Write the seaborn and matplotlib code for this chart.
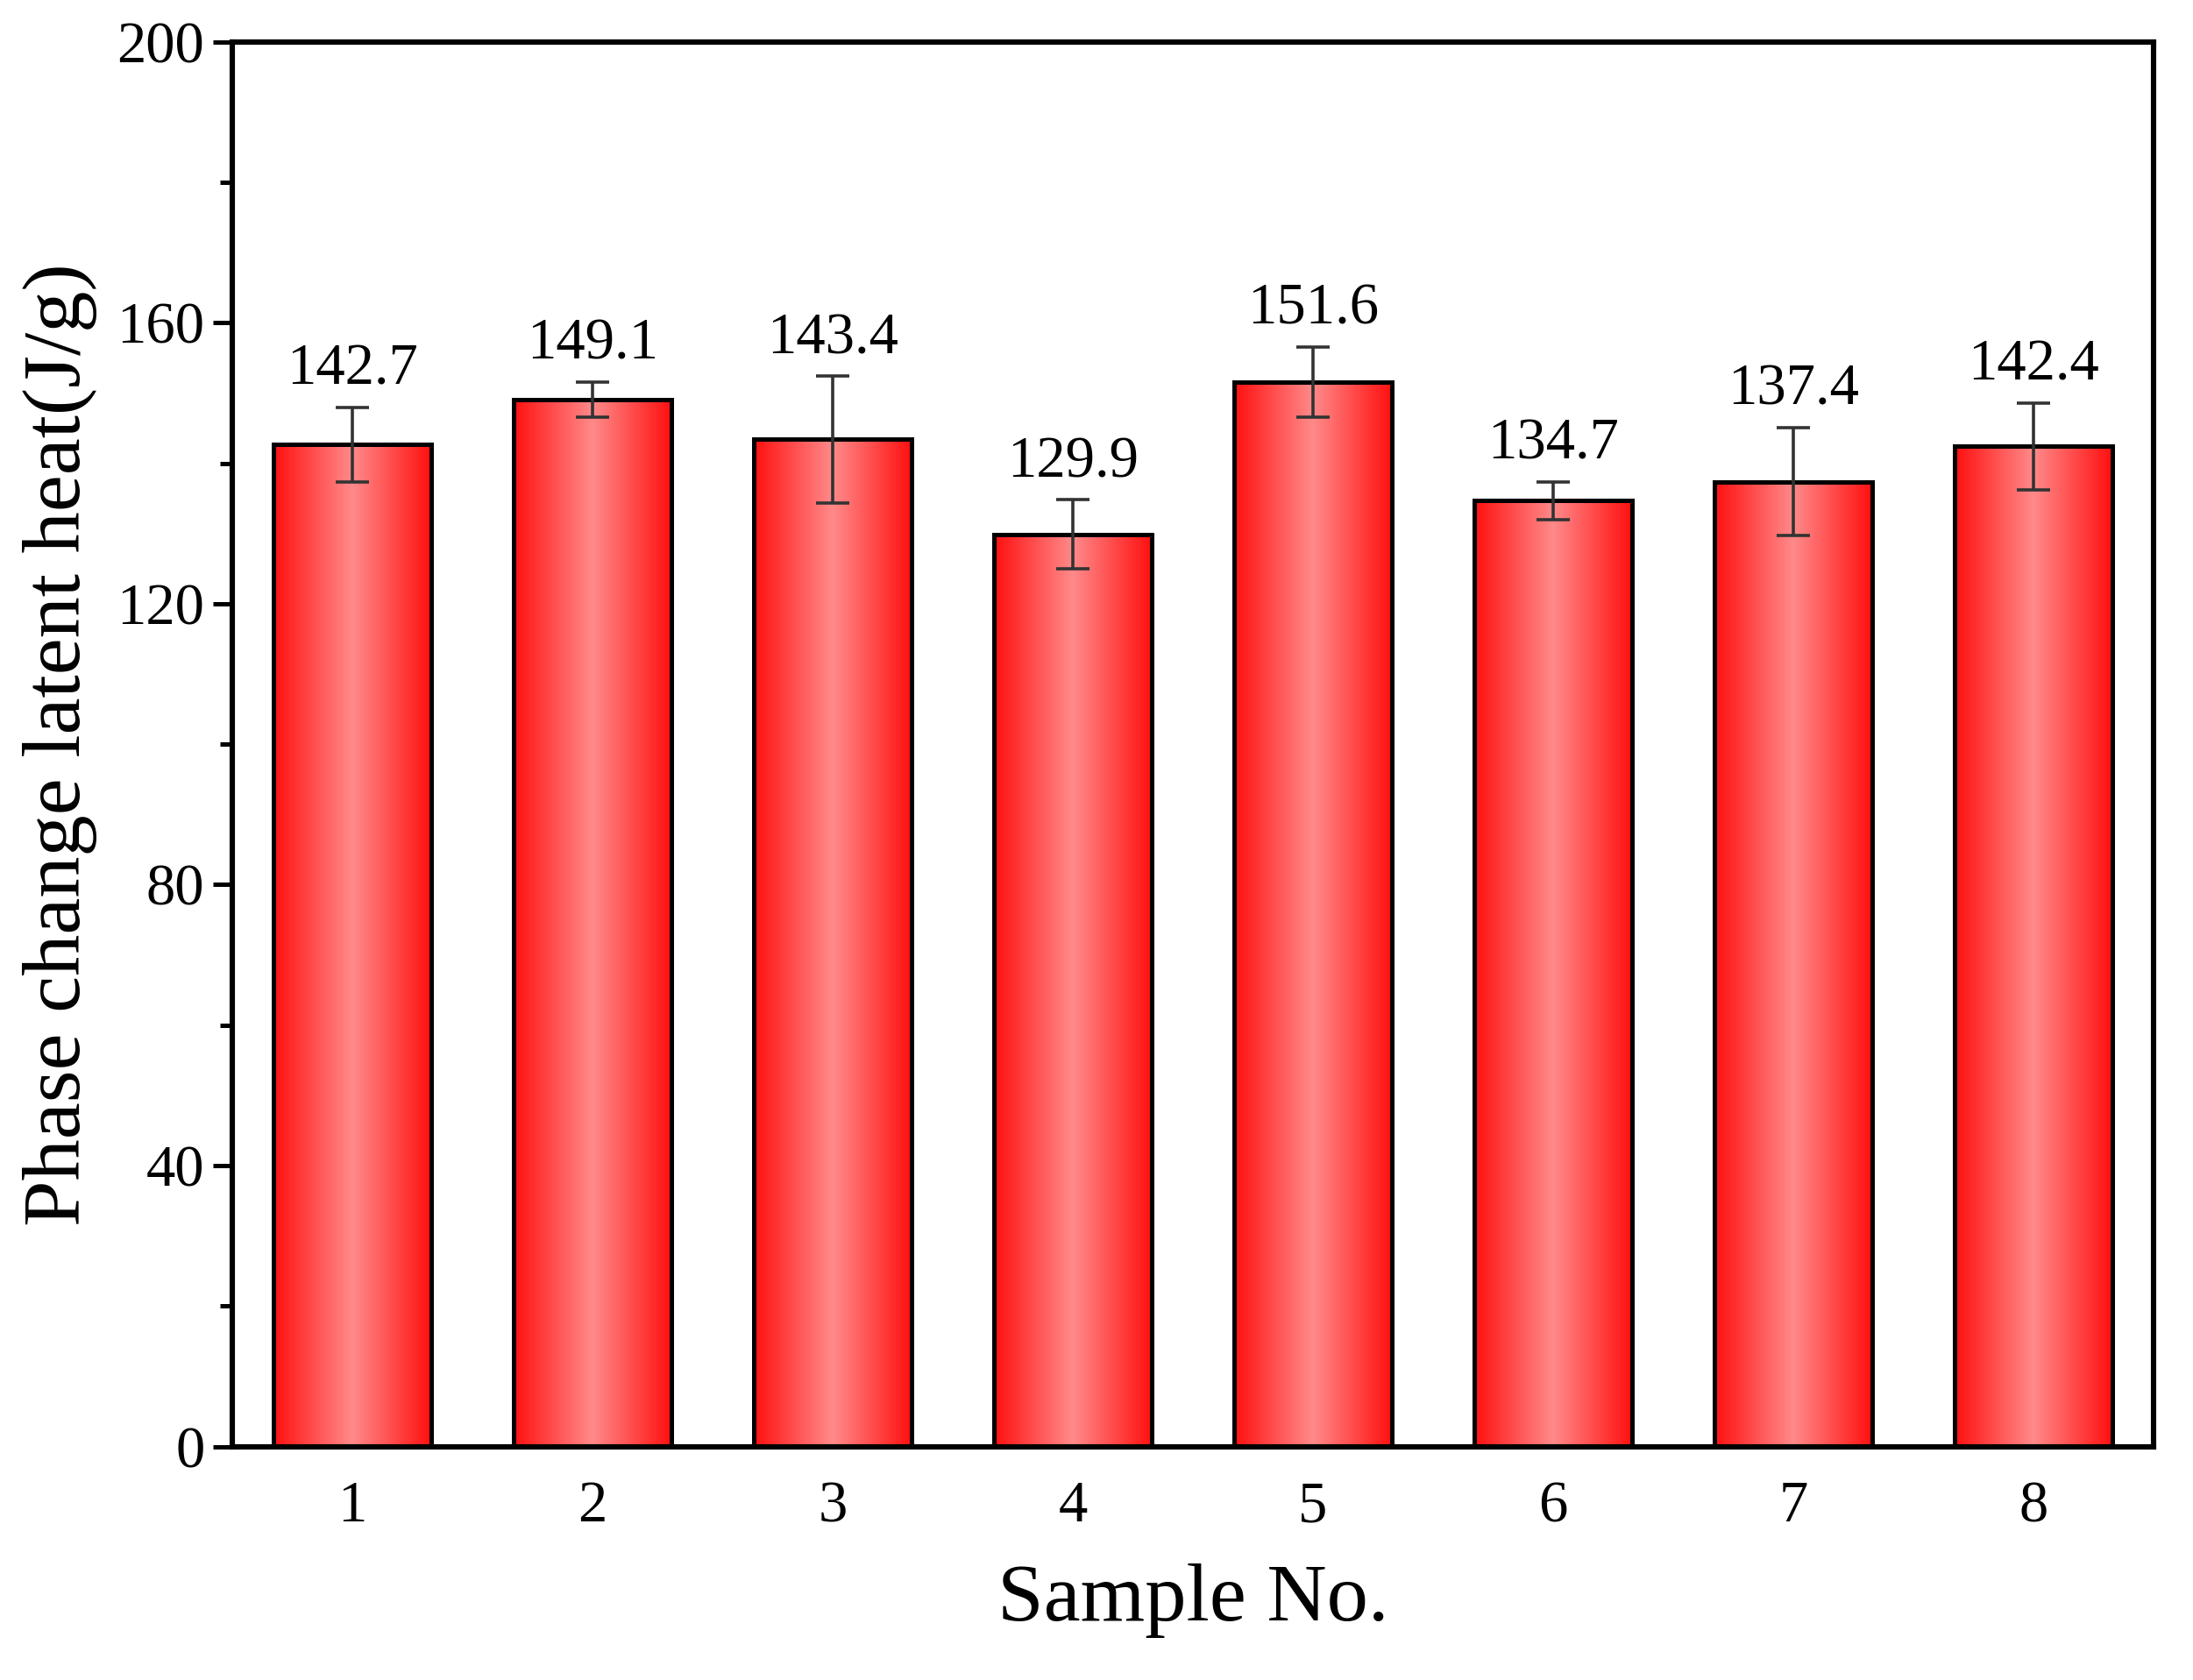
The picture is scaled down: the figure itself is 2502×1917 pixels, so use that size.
import numpy as np
import pandas as pd
import matplotlib
matplotlib.use("Agg")
import matplotlib.pyplot as plt
import seaborn as sns
from matplotlib.colors import LinearSegmentedColormap

samples = ["1", "2", "3", "4", "5", "6", "7", "8"]
values = [142.7, 149.1, 143.4, 129.9, 151.6, 134.7, 137.4, 142.4]
errors = [5.3, 2.5, 9.0, 4.9, 5.0, 2.7, 7.7, 6.2]

sns.set_style("ticks")
plt.rcParams['font.family'] = ['Liberation Serif', 'DejaVu Serif']
for k in ["text.color", "axes.labelcolor", "xtick.color", "ytick.color", "axes.edgecolor"]:
    plt.rcParams[k] = "black"

fig = plt.figure(figsize=(12.51, 9.585), dpi=200)
ax = fig.add_axes([0.106, 0.139, 0.876, 0.836])
df = pd.DataFrame({"Sample": samples, "Value": values})
sns.barplot(data=df, x="Sample", y="Value", order=samples, ax=ax, width=0.655,
            color="red", edgecolor="black", linewidth=1.8, errorbar=None, zorder=2)

cmap = LinearSegmentedColormap.from_list("g", ["#ff1010", "#ff8a8a", "#ff1010"])
grad = np.linspace(0, 1, 256).reshape(1, -1)
for p in ax.patches:
    x0, y0 = p.get_x(), p.get_y()
    w, h = p.get_width(), p.get_height()
    im = ax.imshow(grad, cmap=cmap, aspect="auto", extent=[x0, x0 + w, y0, y0 + h], zorder=2.5)
    im.set_clip_path(p)
    p.set_facecolor("none")
    p.set_zorder(3)

xs = np.arange(len(samples))
ax.errorbar(xs, values, yerr=errors, fmt="none", ecolor="#333333", elinewidth=1.3,
            capsize=7, capthick=1.3, zorder=4)
for x, v, e in zip(xs, values, errors):
    ax.text(x, v + e + 1.5, f"{v:.1f}", ha="center", va="bottom", fontsize=24, zorder=5)

ax.set_xlim(-0.5, 7.5)
ax.set_ylim(0, 200)
ax.set_yticks([0, 40, 80, 120, 160, 200])
ax.set_yticks(np.arange(20, 200, 40), minor=True)
ax.tick_params(axis="y", which="major", direction="out", length=8, width=1.8, labelsize=24)
ax.tick_params(axis="y", which="minor", direction="out", length=5, width=1.8)
ax.tick_params(axis="x", direction="in", length=8, width=1.8, labelsize=24, pad=14)
for s in ax.spines.values():
    s.set_linewidth(2.2)
    s.set_visible(True)
ax.set_xlabel("Sample No.", fontsize=34, labelpad=12)
ax.set_ylabel("Phase change latent heat(J/g)", fontsize=34, labelpad=8)
fig.savefig("out.png", dpi=200)
